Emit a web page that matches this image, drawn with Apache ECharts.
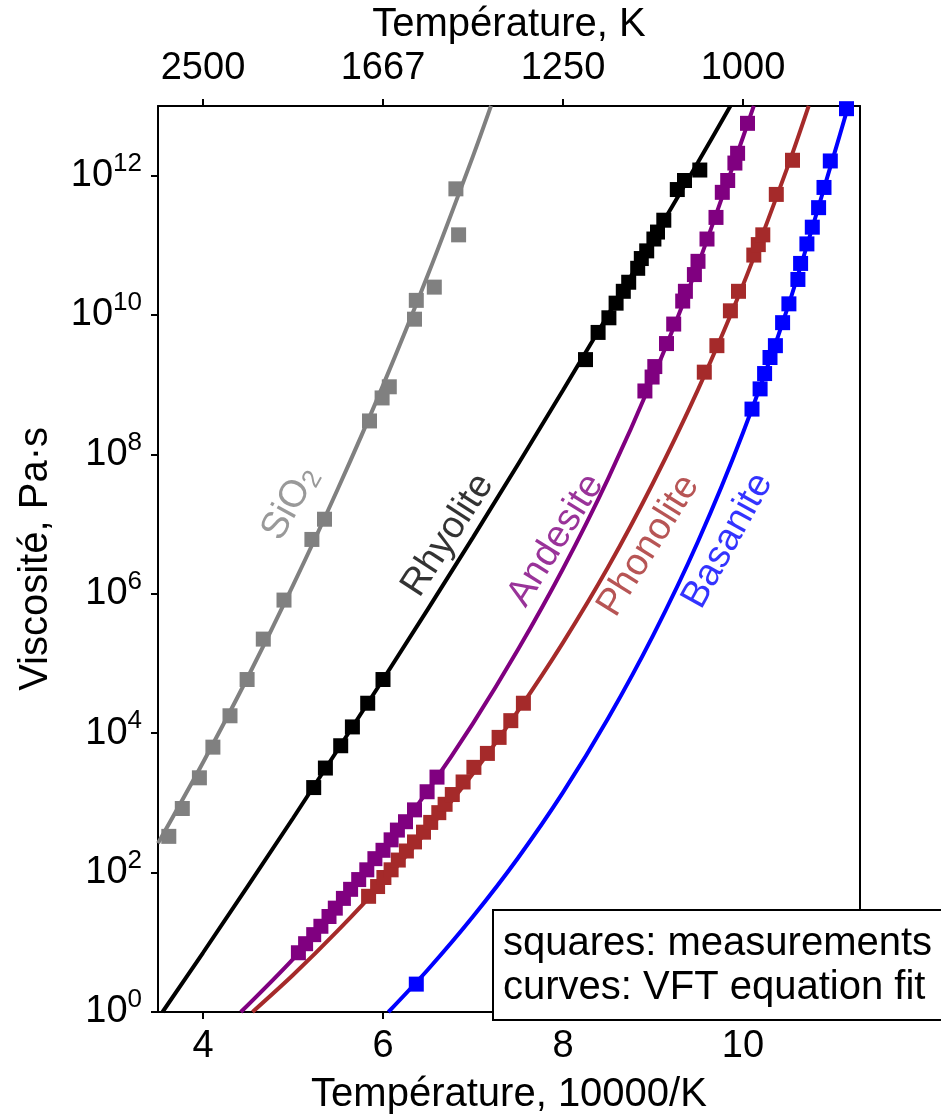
<!DOCTYPE html>
<html><head><meta charset="utf-8">
<script src="https://cdn.jsdelivr.net/npm/echarts@6/dist/echarts.min.js"></script>
<style>html,body{margin:0;padding:0;background:#fff}#c{width:941px;height:1120px}</style>
</head><body><div id="c"></div>
<script>
// ---- axes ----
const xTicks = [4, 6, 8, 10];
const topTickLabels = ['2500', '1667', '1250', '1000'];
const yTicks = [0, 2, 4, 6, 8, 10, 12];   // log10(viscosity)

// ---- SiO2 ----
const sio2X = [3.62,3.77,3.96,4.11,4.30,4.49,4.67,4.90,5.21,5.35,5.85,5.99,6.07,6.35,6.37,6.57,6.84,6.81];
const sio2Y = [2.52,2.92,3.36,3.80,4.25,4.77,5.35,5.91,6.78,7.07,8.48,8.81,8.97,9.94,10.21,10.40,11.15,11.81];
const sio2FitX = [3.50,4.00,4.50,5.00,5.50,6.00,6.50,7.00,7.20];
const sio2FitY = [2.42,3.58,4.81,6.12,7.51,8.99,10.58,12.28,13.0];

// ---- Rhyolite ----
const rhyX = [5.23,5.36,5.53,5.66,5.83,6.00,8.25,8.39,8.51,8.59,8.67,8.73,8.83,8.87,8.93,9.01,9.05,9.12,9.27,9.35,9.52];
const rhyY = [3.22,3.50,3.82,4.09,4.43,4.77,9.36,9.75,9.96,10.17,10.34,10.47,10.67,10.81,10.92,11.09,11.19,11.36,11.80,11.93,12.08];
const rhyFitX = [3.55,4.00,5.00,6.00,7.00,8.00,9.00,9.50,9.86];
const rhyFitY = [0,0.85,2.78,4.77,6.81,8.92,11.09,12.19,13.0];

// ---- Andesite ----
const andX = [5.06,5.14,5.23,5.31,5.40,5.47,5.56,5.64,5.73,5.82,5.91,6.00,6.09,6.16,6.25,6.35,6.49,6.60,
              8.91,8.99,9.02,9.15,9.23,9.33,9.36,9.46,9.50,9.60,9.70,9.77,9.83,9.91,9.94,10.05];
const andY = [0.85,0.98,1.11,1.23,1.37,1.49,1.63,1.76,1.90,2.04,2.20,2.32,2.47,2.61,2.73,2.90,3.16,3.37,
              8.91,9.11,9.26,9.59,9.87,10.20,10.34,10.58,10.77,11.09,11.40,11.76,11.93,12.18,12.32,12.75];
const andFitX = [4.42,5.00,5.50,6.00,6.50,7.00,7.50,8.00,8.50,9.00,9.50,10.00,10.12];
const andFitY = [0,0.76,1.50,2.31,3.18,4.14,5.20,6.36,7.65,9.10,10.72,12.55,13.0];

// ---- Phonolite ----
const phoX = [5.84,5.94,6.01,6.09,6.17,6.26,6.35,6.45,6.53,6.62,6.69,6.77,6.89,7.01,7.16,7.29,7.42,7.56,
              9.57,9.71,9.86,9.95,10.12,10.17,10.22,10.37,10.55];
const phoY = [1.66,1.80,1.93,2.04,2.18,2.31,2.44,2.58,2.72,2.86,2.98,3.12,3.30,3.51,3.71,3.94,4.18,4.43,
              9.18,9.56,10.06,10.34,10.86,11.01,11.15,11.73,12.22];
const phoFitX = [4.55,5.00,5.50,6.00,6.50,7.00,7.50,8.00,8.50,9.00,9.50,10.00,10.50,10.73];
const phoFitY = [0,0.53,1.17,1.86,2.61,3.42,4.32,5.30,6.38,7.59,8.93,10.43,12.14,13.0];

// ---- Basanite ----
const basX = [6.37,10.10,10.19,10.24,10.30,10.36,10.44,10.51,10.61,10.64,10.71,10.77,10.84,10.90,10.97,11.15];
const basY = [0.40,8.65,8.94,9.16,9.39,9.56,9.89,10.16,10.51,10.74,11.02,11.26,11.54,11.83,12.21,12.96];
const basFitX = [6.06,6.50,7.00,7.50,8.00,8.50,9.00,9.50,10.00,10.50,11.00,11.17];
const basFitY = [0,0.61,1.37,2.21,3.15,4.21,5.40,6.75,8.31,10.12,12.25,13.0];

// ---- curve labels (anchor in data coords, angle in degrees) ----
const labelNames = ['SiO{sub|2}', 'Rhyolite', 'Andesite', 'Phonolite', 'Basanite'];
const labelX = [4.97, 6.72, 7.92, 8.95, 9.83];
const labelY = [7.30, 6.84, 6.77, 6.69, 6.76];
const labelAngle = [61, 57, 58, 58, 61];

const colors = ['#808080', '#000000', '#800080', '#a52a2a', '#0000ff'];
const FONT = '"Liberation Sans", Arial, Helvetica, sans-serif';

const zip = (a, b) => a.map((v, i) => [v, b[i]]);
const groups = [
  [sio2X, sio2Y, sio2FitX, sio2FitY],
  [rhyX, rhyY, rhyFitX, rhyFitY],
  [andX, andY, andFitX, andFitY],
  [phoX, phoY, phoFitX, phoFitY],
  [basX, basY, basFitX, basFitY]
];

const series = [];
groups.forEach((g, i) => {
  series.push({
    type: 'line', data: zip(g[2], g[3]), smooth: 0.3, symbol: 'none',
    lineStyle: { color: colors[i], width: 4 }, z: 2, silent: true, clip: true
  });
  series.push({
    type: 'scatter', data: zip(g[0], g[1]), symbol: 'rect', symbolSize: 15,
    itemStyle: { color: colors[i], opacity: 1 }, z: 3, silent: true
  });
});
labelNames.forEach((name, i) => {
  series.push({
    type: 'scatter', data: [[labelX[i], labelY[i]]], symbolSize: 0, silent: true, z: 4,
    label: {
      show: true, position: 'inside', rotate: labelAngle[i], formatter: name,
      color: colors[i], fontSize: 38, fontFamily: FONT,
      rich: { sub: { fontSize: 26, fontFamily: FONT, color: colors[i], padding: [16, 0, 0, 0] } }
    }
  });
});

const axisCommon = {
  type: 'value', min: 3.5, max: 11.3,
  axisLine: { show: true, onZero: false, lineStyle: { color: '#000', width: 2 } },
  axisTick: { show: true, inside: false, length: 7, lineStyle: { color: '#000', width: 2 }, customValues: xTicks },
  splitLine: { show: false },
  nameLocation: 'middle',
  nameTextStyle: { fontSize: 40, fontFamily: FONT, color: '#000' }
};

const chart = echarts.init(document.getElementById('c'), null, { renderer: 'canvas' });
chart.setOption({
  animation: false,
  backgroundColor: '#fff',
  grid: { left: 158, right: 81, top: 102, bottom: 100, containLabel: false },
  xAxis: [
    Object.assign({}, axisCommon, {
      position: 'bottom', name: 'Température, 10000/K', nameGap: 63,
      axisLabel: { fontSize: 38, fontFamily: FONT, color: '#000', margin: 16, customValues: xTicks }
    }),
    Object.assign({}, axisCommon, {
      position: 'top', name: 'Température, K', nameGap: 58,
      axisLabel: { fontSize: 38, fontFamily: FONT, color: '#000', margin: 18, customValues: xTicks,
        formatter: v => topTickLabels[xTicks.indexOf(v)] }
    })
  ],
  yAxis: [
    {
      type: 'value', min: 0, max: 13, position: 'left',
      name: 'Viscosité, Pa·s', nameLocation: 'middle', nameGap: 102,
      nameTextStyle: { fontSize: 40, fontFamily: FONT, color: '#000' },
      axisLine: { show: true, onZero: false, lineStyle: { color: '#000', width: 2 } },
      axisTick: { show: true, inside: false, length: 7, lineStyle: { color: '#000', width: 2 }, customValues: yTicks },
      splitLine: { show: false },
      axisLabel: {
        customValues: yTicks, margin: 16, fontSize: 38, fontFamily: FONT, color: '#000',
        formatter: v => '10{sup|' + v + '}',
        rich: { sup: { fontSize: 26, fontFamily: FONT, color: '#000', padding: [0, 0, 24, 0] } }
      }
    },
    {
      type: 'value', min: 0, max: 13, position: 'right',
      axisLine: { show: true, onZero: false, lineStyle: { color: '#000', width: 2 } },
      axisTick: { show: false }, axisLabel: { show: false }, splitLine: { show: false }
    }
  ],
  series: series,
  graphic: [
    { type: 'rect', z: 100, shape: { x: 493, y: 910, width: 470, height: 110 },
      style: { fill: '#fff', stroke: '#000', lineWidth: 2 } },
    { type: 'text', z: 101, style: { text: 'squares: measurements', x: 503, y: 944,
      fontSize: 40, fontFamily: FONT, fill: '#000', textAlign: 'left', textVerticalAlign: 'middle' } },
    { type: 'text', z: 101, style: { text: 'curves: VFT equation fit', x: 503, y: 988,
      fontSize: 40, fontFamily: FONT, fill: '#000', textAlign: 'left', textVerticalAlign: 'middle' } }
  ]
});
</script>
</body></html>
